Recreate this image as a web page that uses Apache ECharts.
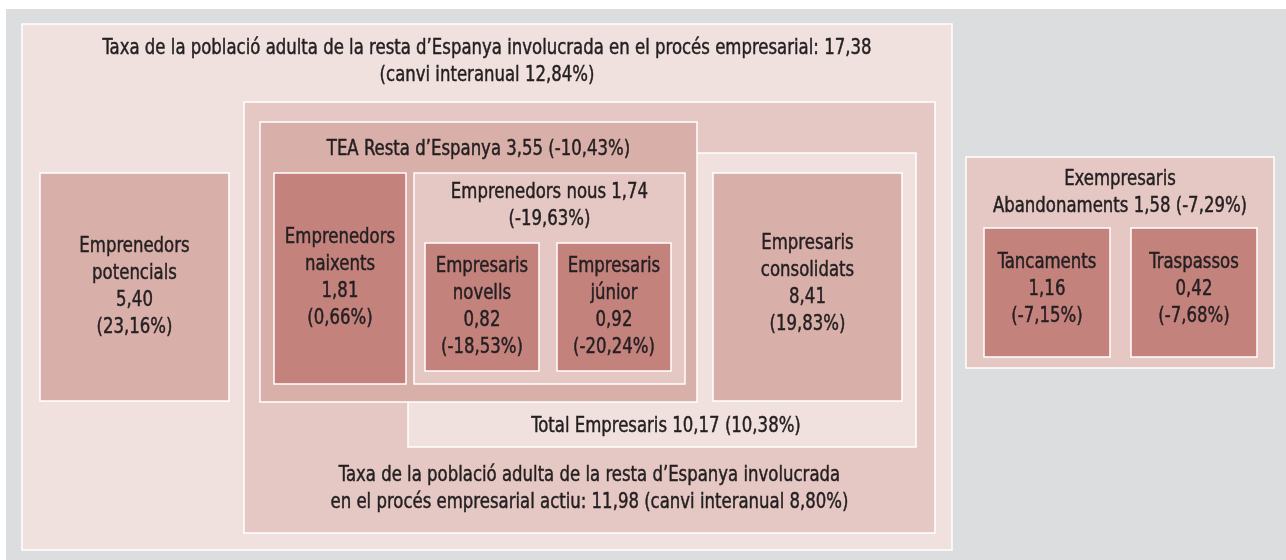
<!DOCTYPE html>
<html>
<head>
<meta charset="utf-8">
<script src="https://cdn.jsdelivr.net/npm/echarts@6/dist/echarts.min.js"></script>
<style>
  html, body { margin: 0; padding: 0; background: #fff; }
  #main { width: 1286px; height: 560px; }
</style>
</head>
<body>
<div id="main"></div>
<script>
// dades del diagrama (taxes i canvi interanual)
const boxNames = [
  'Taxa de la població adulta de la resta d’Espanya involucrada en el procés empresarial',
  'Taxa de la població adulta de la resta d’Espanya involucrada en el procés empresarial actiu',
  'Total Empresaris',
  'TEA Resta d’Espanya',
  'Emprenedors potencials',
  'Emprenedors naixents',
  'Emprenedors nous',
  'Empresaris novells',
  'Empresaris júnior',
  'Empresaris consolidats',
  'Exempresaris Abandonaments',
  'Tancaments',
  'Traspassos'
];
const boxValues = [17.38, 11.98, 10.17, 3.55, 5.40, 1.81, 1.74, 0.82, 0.92, 8.41, 1.58, 1.16, 0.42];
const boxChanges = [12.84, 8.80, 10.38, -10.43, 23.16, 0.66, -19.63, -18.53, -20.24, 19.83, -7.29, -7.15, -7.68];

// posicio de cada caixa: [x0, y0, x1, y1, nivell de color, y del text]
const boxLayout = [
  [22, 24, 952, 550, 0, 62],
  [244, 102, 935, 533, 1, 489],
  [408, 153, 916, 447, 0, 427],
  [260, 122, 697, 402, 2, 150],
  [40, 173, 229, 401, 2, 287],
  [274, 173, 406, 384, 3, 278],
  [414, 173, 685, 384, 1, 206],
  [425, 243, 539, 371, 3, 307],
  [557, 243, 671, 371, 3, 307],
  [713, 173, 902, 401, 2, 284],
  [966, 157, 1274, 368, 1, 193],
  [984, 228, 1110, 357, 3, 290],
  [1131, 228, 1257, 357, 3, 290]
];

const fills = ['#f0e0de', '#e5c7c3', '#d9afaa', '#c4827d'];

function num(v) {
  return v.toFixed(2).replace('.', ',');
}

function pct(v) {
  return num(v) + '%';
}

// com es parteix el text de cada caixa
function labelFor(i) {
  const v = num(boxValues[i]);
  const c = pct(boxChanges[i]);
  switch (i) {
    case 0: return boxNames[0] + ': ' + v + '\n(canvi interanual ' + c + ')';
    case 1: return 'Taxa de la població adulta de la resta d’Espanya involucrada\nen el procés empresarial actiu: ' + v + ' (canvi interanual ' + c + ')';
    case 2: case 3: return boxNames[i] + ' ' + v + ' (' + c + ')';
    case 6: return boxNames[i] + ' ' + v + '\n(' + c + ')';
    case 10: return 'Exempresaris\nAbandonaments ' + v + ' (' + c + ')';
    case 11: case 12: return boxNames[i] + '\n' + v + '\n(' + c + ')';
    default: return boxNames[i].replace(' ', '\n') + '\n' + v + '\n(' + c + ')';
  }
}

const seriesData = boxLayout.map((b, i) => [b[0], b[1], b[2], b[3], b[4], b[5], i]);

var chart = echarts.init(document.getElementById('main'), null, { renderer: 'canvas' });

var option = {
  backgroundColor: '#ffffff',
  animation: false,
  graphic: [
    {
      type: 'rect',
      z: -10,
      shape: { x: 6, y: 9, width: 1280, height: 551 },
      style: { fill: '#dcdddf' }
    }
  ],
  grid: { left: 0, right: 0, top: 0, bottom: 0 },
  xAxis: { type: 'value', min: 0, max: 1286, show: false },
  yAxis: { type: 'value', min: 0, max: 560, inverse: true, show: false },
  series: [
    {
      type: 'custom',
      coordinateSystem: 'cartesian2d',
      data: seriesData,
      renderItem: function (params, api) {
        const p0 = api.coord([api.value(0), api.value(1)]);
        const p1 = api.coord([api.value(2), api.value(3)]);
        const idx = api.value(6);
        const ty = api.coord([0, api.value(5)])[1];
        return {
          type: 'group',
          children: [
            {
              type: 'rect',
              shape: { x: p0[0], y: p0[1], width: p1[0] - p0[0], height: p1[1] - p0[1] },
              style: { fill: fills[api.value(4)], stroke: '#ffffff', lineWidth: 1.5 }
            },
            {
              type: 'text',
              z2: 10,
              // lletra estreta: DejaVu condensada comprimida en horitzontal
              x: (p0[0] + p1[0]) / 2 + (idx === 2 ? 4 : 0),
              y: ty,
              scaleX: 0.875,
              style: {
                x: 0,
                y: 0,
                text: labelFor(idx),
                align: 'center',
                verticalAlign: 'middle',
                fill: '#231f20',
                stroke: '#231f20',
                lineWidth: 0.45,
                font: '21px "Liberation Sans Narrow", "DejaVu Sans Condensed", sans-serif',
                lineHeight: 27
              }
            }
          ]
        };
      }
    }
  ]
};

chart.setOption(option);

window.addEventListener('resize', function () {
  chart.resize();
});
</script>
</body>
</html>
